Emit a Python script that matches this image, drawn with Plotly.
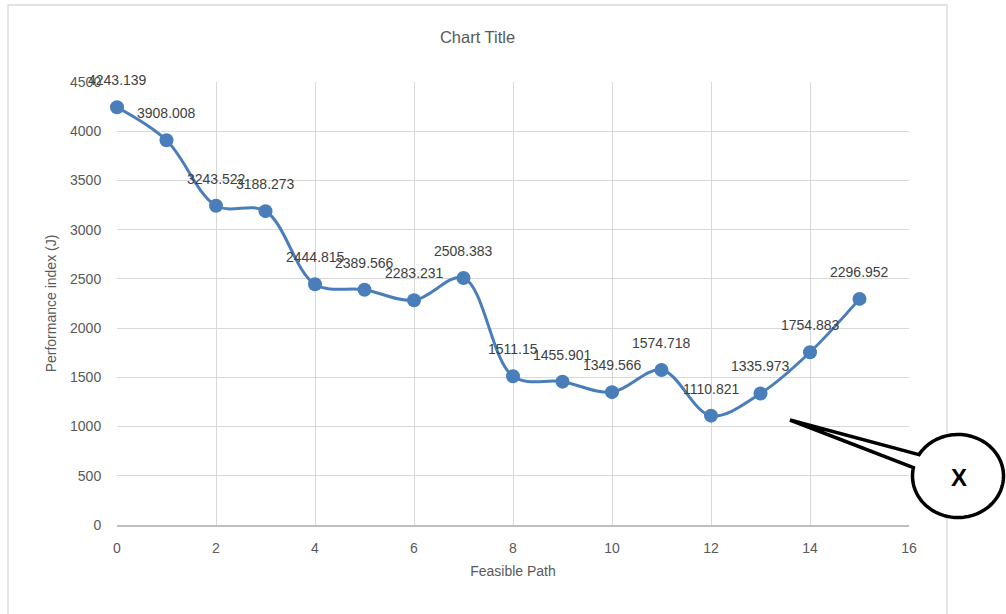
import numpy as np
import plotly.graph_objects as go

# Performance index for each feasible path
path = list(range(16))
perf_index = [4243.139, 3908.008, 3243.522, 3188.273, 2444.815, 2389.566,
              2283.231, 2508.383, 1511.15, 1455.901, 1349.566, 1574.718,
              1110.821, 1335.973, 1754.883, 2296.952]
labels = [str(v) for v in perf_index]

x_ticks = [0, 2, 4, 6, 8, 10, 12, 14, 16]
y_ticks = [0, 500, 1000, 1500, 2000, 2500, 3000, 3500, 4000, 4500]

W, H = 1006, 614
L, R, T, B = 117, 97, 82, 89
PW, PH = W - L - R, H - T - B

GRAY = "#595959"
GRID = "#d9d9d9"
BLUE = "#4a7ebb"
FONT = "Liberation Sans, Arial, sans-serif"


def px(xp):
    return (xp - L) / PW


def py(yp):
    return (H - B - yp) / PH


fig = go.Figure()
fig.add_trace(go.Scatter(
    x=path, y=perf_index, mode="lines+markers",
    line=dict(color=BLUE, width=3, shape="spline", smoothing=1.0),
    marker=dict(color=BLUE, size=14),
    cliponaxis=False, hoverinfo="x+y",
))

annotations = [
    dict(x=xv, y=yv, text=t, showarrow=False, yshift=27, xref="x", yref="y",
         font=dict(family=FONT, size=14, color="#404040"))
    for xv, yv, t in zip(path, perf_index, labels)
]

# callout bubble with a wedge pointing at the curve
cx, cy, rx, ry = 958, 476, 45.5, 41.5
tip = (790, 420)
a0, a1 = np.deg2rad(-149), np.deg2rad(-168.5)
ax_, ay_ = cx + rx * np.cos(a0), cy + ry * np.sin(a0)
bx_, by_ = cx + rx * np.cos(a1), cy + ry * np.sin(a1)
arc = np.linspace(a1, a0 - 2 * np.pi, 120)
pts = [(ax_, ay_), tip, (bx_, by_)] + [(cx + rx * np.cos(t), cy + ry * np.sin(t)) for t in arc]
path_str = "M " + " L ".join(f"{px(p[0]):.5f},{py(p[1]):.5f}" for p in pts) + " Z"

shapes = [
    # chart area border
    dict(type="rect", xref="paper", yref="paper", x0=px(8), x1=px(947),
         y0=py(625), y1=py(5), line=dict(color=GRID, width=1.3), layer="below"),
    dict(type="path", xref="paper", yref="paper", path=path_str,
         fillcolor="white", line=dict(color="black", width=3.5)),
]
annotations.append(dict(x=px(cx + 1), y=py(cy + 1), xref="paper", yref="paper", text="<b>X</b>",
                        xanchor="center", yanchor="middle", showarrow=False,
                        font=dict(family=FONT, size=24, color="black")))

fig.update_layout(
    width=W, height=H,
    margin=dict(l=L, r=R, t=T, b=B, autoexpand=False),
    paper_bgcolor="white", plot_bgcolor="white",
    showlegend=False,
    title=dict(text="Chart Title", x=px(477.5), xref="paper", xanchor="center",
               y=1 - 37 / H, yanchor="middle",
               font=dict(family=FONT, size=16.5, color=GRAY)),
    font=dict(family=FONT, size=14, color=GRAY),
    shapes=shapes, annotations=annotations,
)
fig.update_xaxes(
    range=[0, 16], tickvals=x_ticks, showgrid=True, gridcolor=GRID, gridwidth=1.3,
    zeroline=False, showline=True, linecolor="#bfbfbf", linewidth=1.5,
    ticks="outside", ticklen=9, tickcolor="rgba(0,0,0,0)",
    tickfont=dict(family=FONT, size=14, color=GRAY),
    title=dict(text="Feasible Path", standoff=12, font=dict(family=FONT, size=14, color=GRAY)),
    automargin=False,
)
fig.update_yaxes(
    range=[0, 4500], tickvals=y_ticks, showgrid=True, gridcolor=GRID, gridwidth=1.3,
    zeroline=False, showline=False,
    ticks="outside", ticklen=12, tickcolor="rgba(0,0,0,0)",
    tickfont=dict(family=FONT, size=14, color=GRAY),
    title=dict(text="Performance index (J)", standoff=10, font=dict(family=FONT, size=14, color=GRAY)),
    automargin=False,
)

fig.write_html("out.html")
